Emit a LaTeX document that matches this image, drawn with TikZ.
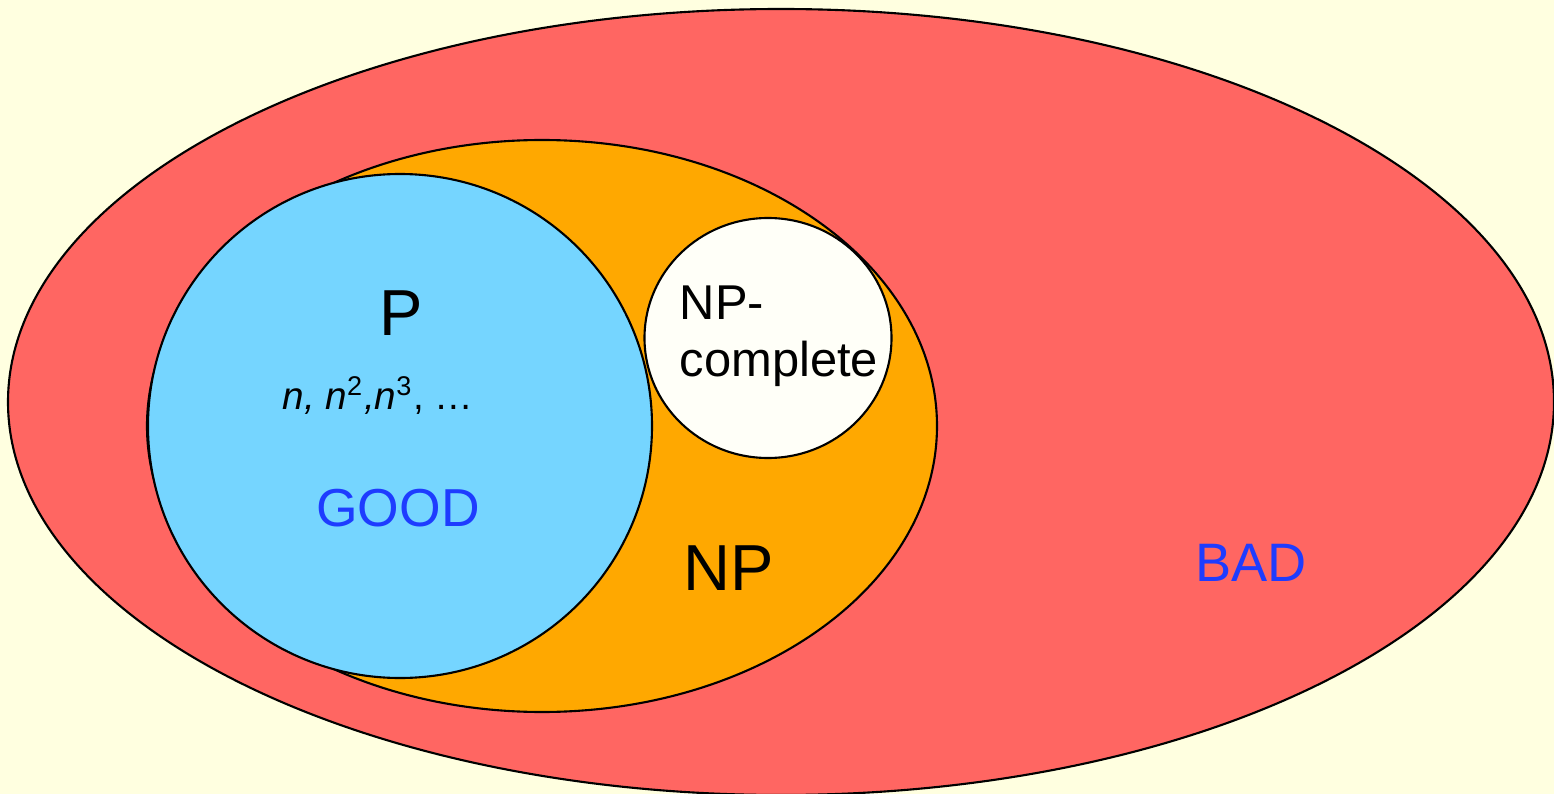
\documentclass[tikz,border=0pt]{standalone}
\usepackage{fontspec}
\setmainfont{Liberation Sans}
\definecolor{bg}{RGB}{255,255,224}
\definecolor{redset}{RGB}{255,102,98}
\definecolor{orangeset}{RGB}{255,168,0}
\definecolor{blueset}{RGB}{117,213,255}
\definecolor{whiteset}{RGB}{255,255,248}
\definecolor{lblblue}{RGB}{30,60,255}
\begin{document}
\begin{tikzpicture}[x=0.01cm,y=-0.01cm,
  setline/.style={draw=black,line width=0.6pt},
  lbl/.style={inner sep=0pt,anchor=center}]
\fill[bg] (0,0) rectangle (1554,794);
\useasboundingbox (0,0) rectangle (1554,794);
\begin{scope}
\clip (0,0) rectangle (1554,794);
\path[setline,fill=redset] (781,402) ellipse [x radius=773, y radius=393];
\path[setline,fill=orangeset] (542,426) ellipse [x radius=395, y radius=286];
\path[setline,fill=whiteset] (768,338) ellipse [x radius=123.5, y radius=120];
\path[setline,fill=blueset] (400,426) circle [radius=252];
\end{scope}
\node[lbl,font=\fontsize{18.5}{22}\selectfont] (p) at (401,313) {P};
\node[lbl,font=\fontsize{11}{13}\selectfont] (poly) at (378,396) {\textit{n,} \textit{n}\textsuperscript{2}\textit{,n}\textsuperscript{3}, …};
\node[lbl,font=\fontsize{15.2}{18}\selectfont,text=lblblue] (good) at (398,508) {GOOD};
\node[lbl,font=\fontsize{18.5}{22}\selectfont] (np) at (729,568) {NP};
\node[lbl,font=\fontsize{15.4}{18}\selectfont,text=lblblue] (bad) at (1251,563) {BAD};
\node[lbl,font=\fontsize{13.9}{16.3}\selectfont,align=left,anchor=north west] (npc) at (679,285) {NP-\\complete};
\end{tikzpicture}
\end{document}
